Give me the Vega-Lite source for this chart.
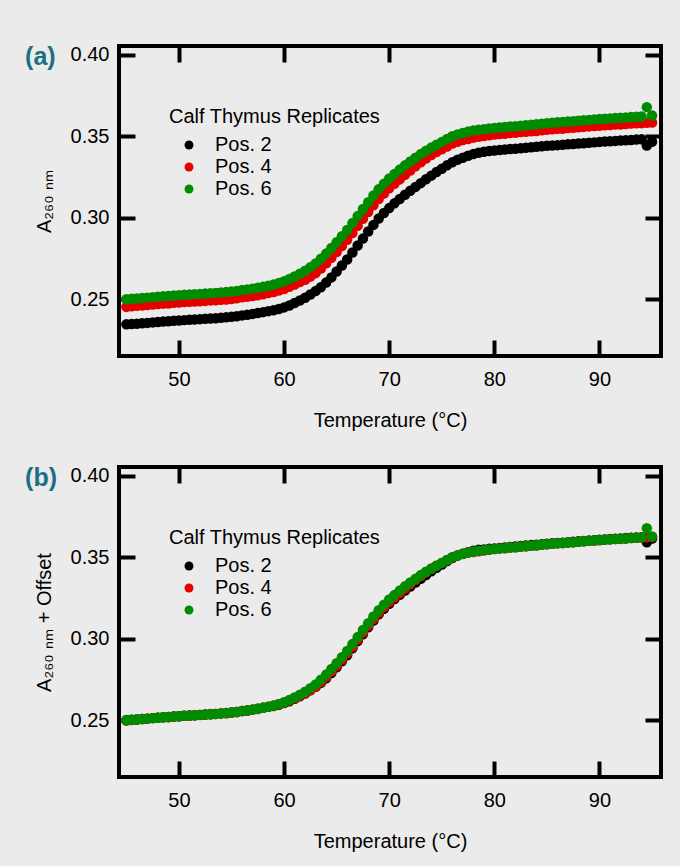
{
  "$schema": "https://vega.github.io/schema/vega-lite/v6.json",
  "background": "#ebebeb",
  "padding": {"left": 23, "top": 42, "right": 16, "bottom": 14},
  "config": {
    "font": "Liberation Sans",
    "view": {"stroke": "#000000", "strokeWidth": 4},
    "axis": {
      "domain": false, "grid": false, "ticks": true, "tickSize": -16, "tickWidth": 4, "tickColor": "#000000",
      "labelFont": "Liberation Sans", "labelFontSize": 20, "labelColor": "#000000",
      "titleFont": "Liberation Sans", "titleFontSize": 20, "titleFontWeight": "normal", "titleColor": "#000000"
    },
    "axisX": {"labelPadding": 29.5, "titlePadding": 21},
    "axisY": {"labelPadding": 26, "titlePadding": 16},
    "legend": {
      "orient": "none", "legendX": 50, "legendY": 61, "padding": 0,
      "titleFont": "Liberation Sans", "titleFontSize": 20, "titleFontWeight": "normal", "titleColor": "#000000", "titlePadding": 8, "titleLimit": 400,
      "labelFont": "Liberation Sans", "labelFontSize": 20, "labelColor": "#000000",
      "symbolType": "circle", "symbolSize": 80, "symbolStrokeWidth": 0, "symbolOffset": 10, "labelOffset": 16, "rowPadding": 2
    },
    "title": {"font": "Liberation Sans", "fontSize": 25, "fontWeight": "bold", "color": "#1b6f83", "anchor": "start", "frame": "bounds"}
  },
  "datasets": {
    "d": [
      {"T":45,"a2":0.2346,"a4":0.2453,"g6":0.2500,"b2":0.2501,"b4":0.2498},
      {"T":45.5,"a2":0.2348,"a4":0.2457,"g6":0.2503,"b2":0.2503,"b4":0.2502},
      {"T":46,"a2":0.2350,"a4":0.2460,"g6":0.2505,"b2":0.2505,"b4":0.2505},
      {"T":46.5,"a2":0.2353,"a4":0.2462,"g6":0.2508,"b2":0.2508,"b4":0.2507},
      {"T":47,"a2":0.2355,"a4":0.2465,"g6":0.2510,"b2":0.2510,"b4":0.2510},
      {"T":47.5,"a2":0.2358,"a4":0.2468,"g6":0.2513,"b2":0.2513,"b4":0.2513},
      {"T":48,"a2":0.2360,"a4":0.2471,"g6":0.2515,"b2":0.2515,"b4":0.2516},
      {"T":48.5,"a2":0.2363,"a4":0.2473,"g6":0.2518,"b2":0.2518,"b4":0.2518},
      {"T":49,"a2":0.2365,"a4":0.2474,"g6":0.2520,"b2":0.2520,"b4":0.2519},
      {"T":49.5,"a2":0.2368,"a4":0.2478,"g6":0.2523,"b2":0.2523,"b4":0.2523},
      {"T":50,"a2":0.2370,"a4":0.2480,"g6":0.2525,"b2":0.2525,"b4":0.2525},
      {"T":50.5,"a2":0.2372,"a4":0.2483,"g6":0.2527,"b2":0.2527,"b4":0.2528},
      {"T":51,"a2":0.2374,"a4":0.2484,"g6":0.2529,"b2":0.2529,"b4":0.2529},
      {"T":51.5,"a2":0.2376,"a4":0.2486,"g6":0.2531,"b2":0.2531,"b4":0.2531},
      {"T":52,"a2":0.2378,"a4":0.2487,"g6":0.2533,"b2":0.2533,"b4":0.2532},
      {"T":52.5,"a2":0.2380,"a4":0.2490,"g6":0.2535,"b2":0.2535,"b4":0.2535},
      {"T":53,"a2":0.2382,"a4":0.2493,"g6":0.2537,"b2":0.2537,"b4":0.2538},
      {"T":53.5,"a2":0.2384,"a4":0.2494,"g6":0.2539,"b2":0.2539,"b4":0.2539},
      {"T":54,"a2":0.2387,"a4":0.2497,"g6":0.2542,"b2":0.2542,"b4":0.2542},
      {"T":54.5,"a2":0.2389,"a4":0.2498,"g6":0.2544,"b2":0.2544,"b4":0.2543},
      {"T":55,"a2":0.2392,"a4":0.2502,"g6":0.2547,"b2":0.2547,"b4":0.2547},
      {"T":55.5,"a2":0.2396,"a4":0.2506,"g6":0.2551,"b2":0.2551,"b4":0.2551},
      {"T":56,"a2":0.2401,"a4":0.2512,"g6":0.2556,"b2":0.2556,"b4":0.2557},
      {"T":56.5,"a2":0.2405,"a4":0.2515,"g6":0.2560,"b2":0.2560,"b4":0.2560},
      {"T":57,"a2":0.2410,"a4":0.2520,"g6":0.2565,"b2":0.2565,"b4":0.2565},
      {"T":57.5,"a2":0.2415,"a4":0.2524,"g6":0.2570,"b2":0.2570,"b4":0.2569},
      {"T":58,"a2":0.2421,"a4":0.2531,"g6":0.2576,"b2":0.2576,"b4":0.2576},
      {"T":58.5,"a2":0.2427,"a4":0.2538,"g6":0.2583,"b2":0.2582,"b4":0.2583},
      {"T":59,"a2":0.2432,"a4":0.2544,"g6":0.2590,"b2":0.2587,"b4":0.2589},
      {"T":59.5,"a2":0.2440,"a4":0.2553,"g6":0.2599,"b2":0.2595,"b4":0.2598},
      {"T":60,"a2":0.2450,"a4":0.2563,"g6":0.2610,"b2":0.2605,"b4":0.2608},
      {"T":60.5,"a2":0.2462,"a4":0.2576,"g6":0.2624,"b2":0.2617,"b4":0.2621},
      {"T":61,"a2":0.2477,"a4":0.2590,"g6":0.2640,"b2":0.2632,"b4":0.2635},
      {"T":61.5,"a2":0.2492,"a4":0.2605,"g6":0.2657,"b2":0.2647,"b4":0.2650},
      {"T":62,"a2":0.2509,"a4":0.2620,"g6":0.2675,"b2":0.2664,"b4":0.2665},
      {"T":62.5,"a2":0.2529,"a4":0.2640,"g6":0.2697,"b2":0.2684,"b4":0.2685},
      {"T":63,"a2":0.2550,"a4":0.2660,"g6":0.2720,"b2":0.2705,"b4":0.2705},
      {"T":63.5,"a2":0.2574,"a4":0.2689,"g6":0.2749,"b2":0.2729,"b4":0.2734},
      {"T":64,"a2":0.2602,"a4":0.2720,"g6":0.2780,"b2":0.2757,"b4":0.2765},
      {"T":64.5,"a2":0.2634,"a4":0.2754,"g6":0.2814,"b2":0.2789,"b4":0.2799},
      {"T":65,"a2":0.2670,"a4":0.2789,"g6":0.2850,"b2":0.2825,"b4":0.2834},
      {"T":65.5,"a2":0.2707,"a4":0.2827,"g6":0.2887,"b2":0.2862,"b4":0.2872},
      {"T":66,"a2":0.2744,"a4":0.2865,"g6":0.2925,"b2":0.2899,"b4":0.2910},
      {"T":66.5,"a2":0.2787,"a4":0.2906,"g6":0.2967,"b2":0.2942,"b4":0.2951},
      {"T":67,"a2":0.2830,"a4":0.2950,"g6":0.3010,"b2":0.2985,"b4":0.2995},
      {"T":67.5,"a2":0.2872,"a4":0.2993,"g6":0.3053,"b2":0.3027,"b4":0.3038},
      {"T":68,"a2":0.2915,"a4":0.3035,"g6":0.3095,"b2":0.3070,"b4":0.3080},
      {"T":68.5,"a2":0.2956,"a4":0.3076,"g6":0.3136,"b2":0.3111,"b4":0.3121},
      {"T":69,"a2":0.2995,"a4":0.3114,"g6":0.3175,"b2":0.3150,"b4":0.3159},
      {"T":69.5,"a2":0.3029,"a4":0.3149,"g6":0.3209,"b2":0.3184,"b4":0.3194},
      {"T":70,"a2":0.3059,"a4":0.3180,"g6":0.3240,"b2":0.3214,"b4":0.3225},
      {"T":70.5,"a2":0.3088,"a4":0.3208,"g6":0.3268,"b2":0.3243,"b4":0.3253},
      {"T":71,"a2":0.3115,"a4":0.3235,"g6":0.3295,"b2":0.3270,"b4":0.3280},
      {"T":71.5,"a2":0.3141,"a4":0.3263,"g6":0.3321,"b2":0.3296,"b4":0.3308},
      {"T":72,"a2":0.3165,"a4":0.3290,"g6":0.3345,"b2":0.3320,"b4":0.3335},
      {"T":72.5,"a2":0.3189,"a4":0.3316,"g6":0.3368,"b2":0.3344,"b4":0.3361},
      {"T":73,"a2":0.3212,"a4":0.3340,"g6":0.3390,"b2":0.3367,"b4":0.3385},
      {"T":73.5,"a2":0.3236,"a4":0.3363,"g6":0.3411,"b2":0.3391,"b4":0.3408},
      {"T":74,"a2":0.3258,"a4":0.3384,"g6":0.3430,"b2":0.3413,"b4":0.3429},
      {"T":74.5,"a2":0.3280,"a4":0.3403,"g6":0.3448,"b2":0.3435,"b4":0.3448},
      {"T":75,"a2":0.3300,"a4":0.3420,"g6":0.3465,"b2":0.3455,"b4":0.3465},
      {"T":75.5,"a2":0.3321,"a4":0.3437,"g6":0.3483,"b2":0.3476,"b4":0.3482},
      {"T":76,"a2":0.3340,"a4":0.3455,"g6":0.3500,"b2":0.3495,"b4":0.3500},
      {"T":76.5,"a2":0.3355,"a4":0.3466,"g6":0.3511,"b2":0.3510,"b4":0.3511},
      {"T":77,"a2":0.3368,"a4":0.3476,"g6":0.3520,"b2":0.3521,"b4":0.3521},
      {"T":77.5,"a2":0.3380,"a4":0.3483,"g6":0.3528,"b2":0.3531,"b4":0.3528},
      {"T":78,"a2":0.3390,"a4":0.3491,"g6":0.3535,"b2":0.3539,"b4":0.3531},
      {"T":78.5,"a2":0.3398,"a4":0.3496,"g6":0.3539,"b2":0.3545,"b4":0.3536},
      {"T":79,"a2":0.3405,"a4":0.3501,"g6":0.3543,"b2":0.3547,"b4":0.3541},
      {"T":79.5,"a2":0.3409,"a4":0.3506,"g6":0.3547,"b2":0.3551,"b4":0.3546},
      {"T":80,"a2":0.3412,"a4":0.3510,"g6":0.3550,"b2":0.3554,"b4":0.3550},
      {"T":80.5,"a2":0.3415,"a4":0.3513,"g6":0.3553,"b2":0.3557,"b4":0.3553},
      {"T":81,"a2":0.3418,"a4":0.3515,"g6":0.3556,"b2":0.3560,"b4":0.3555},
      {"T":81.5,"a2":0.3421,"a4":0.3519,"g6":0.3559,"b2":0.3563,"b4":0.3559},
      {"T":82,"a2":0.3423,"a4":0.3521,"g6":0.3561,"b2":0.3565,"b4":0.3561},
      {"T":82.5,"a2":0.3426,"a4":0.3525,"g6":0.3564,"b2":0.3568,"b4":0.3565},
      {"T":83,"a2":0.3429,"a4":0.3527,"g6":0.3567,"b2":0.3571,"b4":0.3567},
      {"T":83.5,"a2":0.3432,"a4":0.3530,"g6":0.3570,"b2":0.3574,"b4":0.3570},
      {"T":84,"a2":0.3435,"a4":0.3532,"g6":0.3573,"b2":0.3577,"b4":0.3572},
      {"T":84.5,"a2":0.3438,"a4":0.3536,"g6":0.3576,"b2":0.3580,"b4":0.3576},
      {"T":85,"a2":0.3441,"a4":0.3539,"g6":0.3579,"b2":0.3583,"b4":0.3579},
      {"T":85.5,"a2":0.3443,"a4":0.3542,"g6":0.3582,"b2":0.3585,"b4":0.3582},
      {"T":86,"a2":0.3445,"a4":0.3545,"g6":0.3585,"b2":0.3587,"b4":0.3585},
      {"T":86.5,"a2":0.3447,"a4":0.3546,"g6":0.3587,"b2":0.3589,"b4":0.3586},
      {"T":87,"a2":0.3450,"a4":0.3550,"g6":0.3590,"b2":0.3592,"b4":0.3590},
      {"T":87.5,"a2":0.3452,"a4":0.3552,"g6":0.3592,"b2":0.3594,"b4":0.3592},
      {"T":88,"a2":0.3455,"a4":0.3554,"g6":0.3595,"b2":0.3597,"b4":0.3594},
      {"T":88.5,"a2":0.3457,"a4":0.3557,"g6":0.3597,"b2":0.3599,"b4":0.3597},
      {"T":89,"a2":0.3460,"a4":0.3560,"g6":0.3600,"b2":0.3602,"b4":0.3600},
      {"T":89.5,"a2":0.3462,"a4":0.3562,"g6":0.3602,"b2":0.3604,"b4":0.3602},
      {"T":90,"a2":0.3465,"a4":0.3564,"g6":0.3605,"b2":0.3607,"b4":0.3604},
      {"T":90.5,"a2":0.3467,"a4":0.3567,"g6":0.3607,"b2":0.3609,"b4":0.3607},
      {"T":91,"a2":0.3469,"a4":0.3569,"g6":0.3609,"b2":0.3611,"b4":0.3609},
      {"T":91.5,"a2":0.3471,"a4":0.3571,"g6":0.3611,"b2":0.3613,"b4":0.3611},
      {"T":92,"a2":0.3473,"a4":0.3572,"g6":0.3613,"b2":0.3615,"b4":0.3612},
      {"T":92.5,"a2":0.3475,"a4":0.3575,"g6":0.3615,"b2":0.3617,"b4":0.3615},
      {"T":93,"a2":0.3477,"a4":0.3577,"g6":0.3617,"b2":0.3619,"b4":0.3617},
      {"T":93.5,"a2":0.3479,"a4":0.3579,"g6":0.3619,"b2":0.3621,"b4":0.3619},
      {"T":94,"a2":0.3481,"a4":0.3580,"g6":0.3621,"b2":0.3623,"b4":0.3620},
      {"T":94.5,"a2":0.3443,"a4":0.3582,"g6":0.3678,"b2":0.3591,"b4":0.3622},
      {"T":95,"a2":0.3466,"a4":0.3584,"g6":0.3627,"b2":0.3614,"b4":0.3624}
    ]
  },
  "spacing": 30,
  "vconcat": [
    {
      "width": 542, "height": 310,
      "title": {"text": "(a)", "dy": 30, "dx": -9},
      "data": {"name": "d"},
      "transform": [{"fold": ["a2", "a4", "g6"], "as": ["s", "v"]}],
      "layer": [
        {
          "mark": {"type": "point", "filled": true, "size": 110, "opacity": 1},
          "encoding": {
            "x": {"field": "T", "type": "quantitative", "scale": {"domain": [44.3, 95.85], "nice": false, "zero": false},
                  "axis": {"orient": "bottom", "values": [50, 60, 70, 80, 90], "title": "Temperature (°C)"}},
            "y": {"field": "v", "type": "quantitative", "scale": {"domain": [0.2152, 0.4053], "nice": false, "zero": false},
                  "axis": {"orient": "left", "values": [0.25, 0.3, 0.35, 0.4], "format": ".2f", "title": "A₂₆₀ ₙₘ"}},
            "color": {"field": "s", "type": "nominal", "scale": {"domain": ["a2", "a4", "g6"], "range": ["#000000", "#e50000", "#008c00"]},
                      "legend": {"title": "Calf Thymus Replicates", "labelExpr": "'Pos. ' + substring(datum.label, 1)"}},
            "order": {"field": "s"}
          }
        },
        {
          "mark": {"type": "point", "opacity": 0},
          "encoding": {
            "x": {"field": "T", "type": "quantitative", "axis": {"orient": "top", "values": [50, 60, 70, 80, 90], "labels": false, "title": null}},
            "y": {"field": "v", "type": "quantitative", "axis": {"orient": "right", "values": [0.25, 0.3, 0.35, 0.4], "labels": false, "title": null}}
          }
        }
      ],
      "resolve": {"axis": {"x": "independent", "y": "independent"}}
    },
    {
      "width": 542, "height": 310,
      "title": {"text": "(b)", "dy": 30, "dx": -9},
      "data": {"name": "d"},
      "transform": [{"fold": ["b2", "b4", "g6"], "as": ["s", "v"]}],
      "layer": [
        {
          "mark": {"type": "point", "filled": true, "size": 110, "opacity": 1},
          "encoding": {
            "x": {"field": "T", "type": "quantitative", "scale": {"domain": [44.3, 95.85], "nice": false, "zero": false},
                  "axis": {"orient": "bottom", "values": [50, 60, 70, 80, 90], "title": "Temperature (°C)"}},
            "y": {"field": "v", "type": "quantitative", "scale": {"domain": [0.2152, 0.4053], "nice": false, "zero": false},
                  "axis": {"orient": "left", "values": [0.25, 0.3, 0.35, 0.4], "format": ".2f", "title": "A₂₆₀ ₙₘ + Offset"}},
            "color": {"field": "s", "type": "nominal", "scale": {"domain": ["b2", "b4", "g6"], "range": ["#000000", "#e50000", "#008c00"]},
                      "legend": {"title": "Calf Thymus Replicates", "labelExpr": "'Pos. ' + substring(datum.label, 1)"}},
            "order": {"field": "s"}
          }
        },
        {
          "mark": {"type": "point", "opacity": 0},
          "encoding": {
            "x": {"field": "T", "type": "quantitative", "axis": {"orient": "top", "values": [50, 60, 70, 80, 90], "labels": false, "title": null}},
            "y": {"field": "v", "type": "quantitative", "axis": {"orient": "right", "values": [0.25, 0.3, 0.35, 0.4], "labels": false, "title": null}}
          }
        }
      ],
      "resolve": {"axis": {"x": "independent", "y": "independent"}}
    }
  ],
  "resolve": {"scale": {"color": "independent"}}
}
